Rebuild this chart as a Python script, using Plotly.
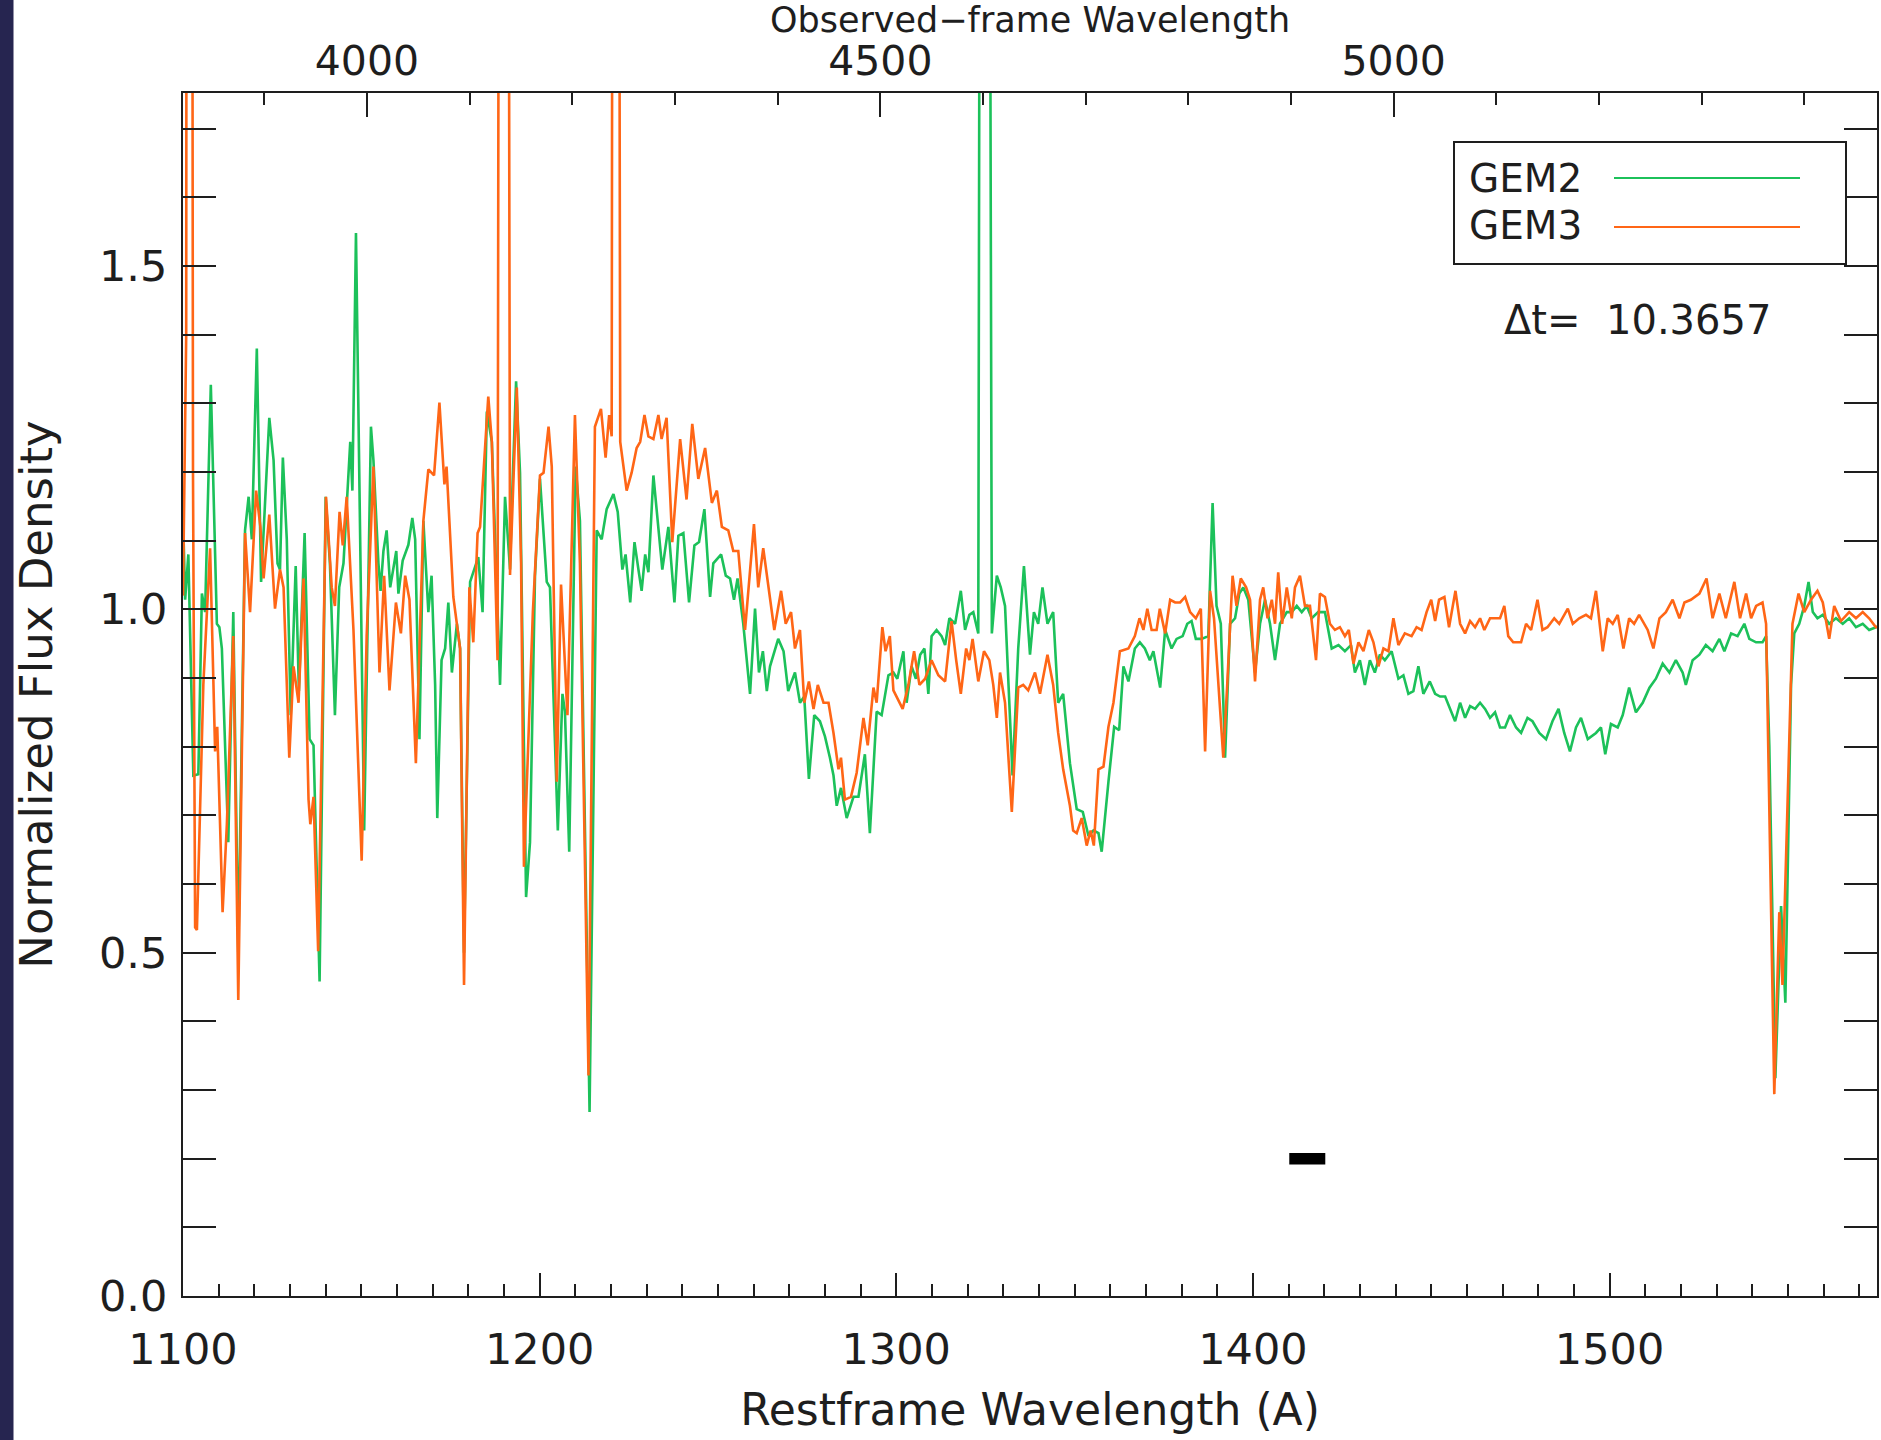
import plotly.graph_objects as go

# ---------------- data ----------------
one_plus_z = 3.4735  # observed / restframe wavelength

# GEM2 (green) : restframe wavelength and normalized flux
gem2_wave_a = [1100.0, 1100.6, 1101.5, 1102.9, 1104.3, 1105.3, 1106.2, 1107.8, 1109.5, 1110.2,
               1110.9, 1112.7, 1114.1, 1115.5, 1117.4, 1118.4, 1119.3, 1120.7, 1121.9, 1124.2,
               1125.4, 1126.5, 1127.2, 1128.0, 1129.1, 1130.2, 1131.6, 1132.5, 1134.1, 1135.5,
               1136.6, 1138.3, 1140.0, 1141.2, 1142.6, 1143.8, 1145.0, 1146.9, 1147.5, 1148.5,
               1150.8, 1152.7, 1153.4, 1154.8, 1155.4, 1156.2, 1157.1, 1158.1, 1159.8, 1160.4,
               1161.6, 1163.2, 1164.3, 1165.1, 1166.3, 1167.4, 1168.8, 1169.7, 1170.7, 1171.3,
               1172.5, 1173.5, 1174.4, 1175.4, 1176.8, 1177.7, 1178.8, 1180.5, 1182.8, 1184.0,
               1185.2, 1186.6, 1188.9, 1190.3, 1191.7, 1192.2, 1193.4, 1194.5, 1196.2, 1197.3,
               1198.7]
gem2_flux_a = [1.138, 1.014, 1.080, 0.758, 0.760, 1.023, 0.996, 1.327, 0.979, 0.974,
               0.943, 0.661, 0.996, 0.500, 1.115, 1.164, 1.102, 1.380, 1.040, 1.279,
               1.217, 1.067, 1.058, 1.221, 1.102, 0.846, 1.063, 0.881, 1.111, 0.811,
               0.802, 0.458, 1.164, 1.067, 0.846, 1.032, 1.067, 1.244, 1.173, 1.548,
               0.678, 1.266, 1.217, 1.067, 1.027, 1.085, 1.115, 1.032, 1.085, 1.023,
               1.071, 1.094, 1.133, 1.102, 0.811, 1.129, 0.996, 1.049, 0.890, 0.696,
               0.926, 0.943, 1.010, 0.908, 0.979, 0.943, 0.500, 1.040, 1.076, 0.996,
               1.288, 1.244, 0.890, 1.164, 1.058, 1.151, 1.332, 1.199, 0.581, 0.661,
               1.049]

gem2_wave_b = [1200.1, 1202.0, 1202.9, 1205.1, 1206.4, 1207.1, 1208.3, 1210.1, 1211.3, 1214.0,
               1216.0, 1217.4, 1218.8, 1220.7, 1221.9, 1223.2, 1224.1, 1225.4, 1226.6, 1227.7,
               1228.6, 1229.6, 1230.5, 1231.9, 1234.4, 1236.1, 1237.8, 1238.9, 1240.3, 1241.9,
               1243.4, 1244.7, 1246.2, 1247.8, 1248.7, 1250.9, 1252.2, 1253.4, 1254.5, 1255.5,
               1257.1, 1259.0, 1260.4, 1261.5, 1262.6, 1263.7, 1264.6, 1266.9, 1268.4, 1269.7,
               1270.7, 1271.6, 1273.0, 1274.2, 1275.5, 1277.0, 1278.6, 1280.0, 1281.4, 1282.4,
               1283.3, 1284.5, 1286.1, 1288.0, 1289.4, 1291.2, 1292.6, 1294.5, 1295.9, 1297.8]
gem2_flux_b = [1.190, 1.040, 1.032, 0.678, 0.877, 0.851, 0.647, 1.208, 1.129, 0.268,
               1.115, 1.102, 1.146, 1.168, 1.142, 1.058, 1.080, 1.010, 1.098, 1.058,
               1.027, 1.080, 1.054, 1.195, 1.058, 1.120, 1.010, 1.107, 1.111, 1.010,
               1.093, 1.098, 1.146, 1.018, 1.067, 1.080, 1.049, 1.045, 1.014, 1.045,
               0.979, 0.877, 1.001, 0.908, 0.939, 0.881, 0.917, 0.957, 0.939, 0.881,
               0.895, 0.908, 0.864, 0.873, 0.753, 0.846, 0.837, 0.815, 0.784, 0.758,
               0.714, 0.740, 0.696, 0.727, 0.727, 0.789, 0.674, 0.851, 0.846, 0.904]

gem2_wave_c = [1299.2, 1300.3, 1302.0, 1302.9, 1304.3, 1305.5, 1306.7, 1307.9, 1309.0, 1309.9,
               1311.3, 1312.7, 1313.7, 1314.9, 1316.5, 1318.1, 1319.3, 1320.5, 1321.6, 1323.0,
               1323.7, 1325.8, 1326.8, 1328.2, 1329.3, 1330.5, 1332.6, 1334.2, 1335.8, 1337.5,
               1338.6, 1339.8, 1341.0, 1342.4, 1344.0, 1345.4, 1346.8, 1348.7, 1350.6, 1352.3,
               1353.9, 1355.3, 1356.7, 1357.6, 1359.5, 1361.1, 1362.5, 1363.7, 1365.1, 1366.9,
               1368.3, 1369.7, 1371.1, 1372.1, 1374.0, 1375.4, 1377.2, 1378.6, 1380.3, 1381.6,
               1382.8, 1384.0, 1385.6, 1387.5, 1388.7, 1389.8, 1391.0, 1392.2, 1393.6, 1395.0,
               1396.2, 1397.3, 1398.7]
gem2_flux_c = [0.908, 0.899, 0.939, 0.864, 0.917, 0.899, 0.934, 0.943, 0.877, 0.961,
               0.970, 0.961, 0.948, 0.987, 0.979, 1.027, 0.970, 0.992, 0.996, 0.965,
               3.000, 3.000, 0.965, 1.049, 1.032, 1.005, 0.758, 0.943, 1.063, 0.934,
               0.996, 0.979, 1.032, 0.979, 0.996, 0.864, 0.877, 0.776, 0.709, 0.705,
               0.670, 0.678, 0.674, 0.647, 0.749, 0.829, 0.824, 0.917, 0.895, 0.943,
               0.952, 0.943, 0.926, 0.939, 0.886, 0.970, 0.943, 0.957, 0.961, 0.979,
               0.983, 0.957, 0.957, 0.961, 1.155, 1.005, 0.979, 0.784, 0.979, 0.987,
               1.023, 1.032, 1.014]

gem2_wave_d = [1400.6, 1402.0, 1403.4, 1404.8, 1406.2, 1407.6, 1409.5, 1410.9, 1412.3, 1413.7,
               1415.1, 1416.5, 1418.3, 1420.2, 1422.1, 1424.0, 1425.8, 1427.5, 1428.6, 1430.0,
               1431.4, 1432.8, 1434.2, 1435.6, 1437.0, 1438.9, 1440.8, 1442.2, 1443.6, 1445.0,
               1446.4, 1447.8, 1449.6, 1451.1, 1452.5, 1453.9, 1455.3, 1456.7, 1458.1, 1459.5,
               1460.9, 1462.3, 1463.7, 1465.1, 1466.5, 1467.9, 1469.3, 1470.7, 1472.1]
gem2_flux_d = [0.908, 0.979, 1.014, 0.979, 0.926, 0.979, 0.996, 0.996, 1.005, 0.996,
               1.005, 0.987, 0.996, 0.996, 0.943, 0.948, 0.939, 0.948, 0.908, 0.926,
               0.890, 0.926, 0.908, 0.934, 0.926, 0.939, 0.899, 0.904, 0.877, 0.881,
               0.917, 0.877, 0.895, 0.877, 0.873, 0.873, 0.855, 0.837, 0.864, 0.842,
               0.859, 0.855, 0.864, 0.855, 0.842, 0.850, 0.828, 0.828, 0.846]

gem2_wave_e = [1473.8, 1475.2, 1477.0, 1478.4, 1480.3, 1482.2, 1484.0, 1485.7, 1487.3, 1488.9,
               1490.6, 1492.0, 1493.9, 1496.2, 1497.6, 1498.8, 1500.4, 1502.3, 1503.7, 1505.5,
               1507.4, 1509.3, 1511.2, 1513.0, 1514.9, 1516.8, 1518.6, 1520.5, 1521.4, 1523.3,
               1525.2, 1527.0, 1528.9, 1530.8, 1532.2, 1534.1, 1535.9, 1537.8, 1539.2, 1541.1,
               1542.9, 1543.9, 1544.8, 1546.5, 1548.1, 1549.3, 1550.9, 1551.8, 1553.2, 1554.6,
               1555.8, 1557.0, 1558.3, 1559.8, 1561.6, 1563.5, 1565.4, 1567.2, 1569.1, 1571.0,
               1572.8, 1574.7, 1575.5]
gem2_flux_e = [0.828, 0.820, 0.842, 0.837, 0.820, 0.811, 0.837, 0.855, 0.820, 0.793,
               0.828, 0.842, 0.811, 0.820, 0.828, 0.789, 0.833, 0.828, 0.846, 0.886,
               0.850, 0.864, 0.886, 0.899, 0.921, 0.908, 0.926, 0.908, 0.890, 0.926,
               0.934, 0.948, 0.939, 0.957, 0.939, 0.965, 0.961, 0.979, 0.957, 0.952,
               0.952, 0.961, 0.802, 0.317, 0.568, 0.427, 0.890, 0.965, 0.979, 1.005,
               1.040, 0.996, 0.987, 0.992, 0.979, 0.987, 0.979, 0.987, 0.974, 0.979,
               0.970, 0.974, 0.975]

# GEM3 (orange)
gem3_wave_a = [1100.0, 1100.9, 1101.1, 1102.4, 1102.8, 1103.4, 1103.9, 1105.7, 1107.6, 1109.0,
               1109.6, 1111.1, 1112.3, 1114.1, 1115.5, 1117.4, 1118.8, 1120.5, 1121.7, 1122.6,
               1124.2, 1125.8, 1127.2, 1128.2, 1129.8, 1131.0, 1132.4, 1133.8, 1135.2, 1135.7,
               1136.6, 1137.9, 1140.1, 1141.7, 1142.6, 1143.9, 1144.8, 1145.9, 1147.8, 1150.1,
               1151.5, 1153.4, 1155.1, 1156.4, 1157.9, 1159.7, 1161.1, 1162.3, 1163.5, 1165.3,
               1167.4, 1168.8, 1170.4, 1171.9, 1173.3, 1173.9, 1175.8, 1177.7, 1178.8, 1180.3,
               1181.4, 1182.6, 1183.3, 1185.6, 1186.6, 1188.2, 1188.8, 1191.0, 1191.7, 1193.6,
               1194.8, 1195.6, 1198.1]
gem3_flux_a = [1.020, 1.400, 3.000, 3.000, 1.200, 0.537, 0.533, 0.890, 1.089, 0.793,
               0.829, 0.559, 0.687, 0.961, 0.431, 1.111, 0.996, 1.173, 1.120, 1.045,
               1.138, 1.001, 1.058, 1.032, 0.784, 0.917, 0.864, 1.045, 0.723, 0.687,
               0.727, 0.502, 1.164, 1.032, 1.005, 1.142, 1.093, 1.164, 0.970, 0.634,
               0.961, 1.208, 0.908, 1.049, 0.882, 1.010, 0.965, 1.049, 1.014, 0.776,
               1.129, 1.204, 1.195, 1.301, 1.182, 1.208, 1.018, 0.943, 0.453, 1.032,
               0.952, 1.111, 1.120, 1.310, 1.244, 0.926, 3.000, 3.000, 1.050, 1.323,
               1.067, 0.625, 0.996]

gem3_wave_b = [1200.1, 1201.1, 1202.5, 1203.4, 1204.8, 1206.0, 1207.1, 1207.8, 1209.9, 1211.3,
               1213.7, 1215.5, 1217.2, 1218.5, 1219.5, 1220.2, 1220.6, 1222.0, 1222.6, 1224.4,
               1225.8, 1227.2, 1228.2, 1229.4, 1230.5, 1231.9, 1233.3, 1234.2, 1235.6, 1237.2,
               1239.4, 1241.2, 1242.8, 1244.5, 1246.4, 1248.3, 1249.7, 1251.1, 1252.9, 1254.3,
               1255.7, 1257.6, 1260.1, 1261.3, 1262.7, 1264.1, 1265.8, 1267.7, 1269.0, 1270.5,
               1271.6, 1273.0, 1274.2, 1275.5, 1276.8, 1278.0, 1279.6, 1281.0, 1282.4, 1283.8,
               1284.5, 1285.6, 1287.3, 1288.9, 1290.8, 1292.0, 1293.6, 1294.5, 1296.1, 1297.0,
               1298.2]
gem3_flux_b = [1.195, 1.199, 1.266, 1.208, 0.749, 1.036, 0.926, 0.846, 1.283, 1.067,
               0.321, 1.266, 1.292, 1.221, 1.283, 1.252, 3.000, 3.000, 1.244, 1.173,
               1.199, 1.235, 1.244, 1.283, 1.252, 1.248, 1.283, 1.248, 1.279, 1.098,
               1.248, 1.160, 1.270, 1.190, 1.235, 1.155, 1.173, 1.120, 1.115, 1.085,
               1.085, 0.970, 1.124, 1.032, 1.089, 1.032, 0.970, 1.027, 0.979, 0.996,
               0.943, 0.970, 0.864, 0.895, 0.855, 0.890, 0.864, 0.864, 0.820, 0.767,
               0.784, 0.723, 0.727, 0.762, 0.842, 0.802, 0.886, 0.864, 0.974, 0.939,
               0.961]

gem3_wave_c = [1299.2, 1300.1, 1301.8, 1303.4, 1305.0, 1306.5, 1308.1, 1309.9, 1311.8, 1313.7,
               1315.5, 1316.8, 1318.1, 1319.6, 1320.5, 1321.4, 1323.0, 1324.6, 1326.1, 1327.2,
               1328.2, 1329.1, 1330.5, 1332.4, 1334.2, 1335.6, 1337.0, 1338.9, 1340.3, 1342.4,
               1344.0, 1345.4, 1346.8, 1348.7, 1349.6, 1350.6, 1352.0, 1353.4, 1354.5, 1355.4,
               1356.7, 1358.1, 1359.5, 1360.9, 1362.7, 1365.1, 1366.9, 1368.2, 1369.3, 1370.4,
               1371.6, 1373.0, 1373.9, 1375.4, 1376.8, 1378.2, 1379.6, 1381.0, 1382.4, 1384.0,
               1385.4, 1386.6, 1388.0, 1389.1, 1390.3, 1391.7, 1392.8, 1394.3, 1395.4, 1396.6,
               1398.1]
gem3_flux_c = [0.882, 0.873, 0.855, 0.890, 0.939, 0.890, 0.899, 0.926, 0.904, 0.895,
               0.983, 0.926, 0.877, 0.943, 0.926, 0.957, 0.895, 0.939, 0.926, 0.890,
               0.842, 0.908, 0.864, 0.705, 0.886, 0.890, 0.882, 0.908, 0.877, 0.934,
               0.890, 0.820, 0.767, 0.714, 0.678, 0.674, 0.696, 0.656, 0.678, 0.656,
               0.767, 0.771, 0.829, 0.864, 0.939, 0.943, 0.961, 0.987, 0.970, 1.001,
               0.970, 0.970, 1.001, 0.965, 1.014, 1.010, 1.010, 1.018, 0.996, 0.987,
               1.001, 0.793, 1.027, 0.987, 0.890, 0.784, 0.890, 1.049, 1.005, 1.045,
               1.032]

gem3_wave_d = [1399.2, 1400.6, 1402.0, 1402.9, 1404.1, 1405.3, 1406.2, 1407.1, 1408.2, 1409.5,
               1410.9, 1411.8, 1413.2, 1414.6, 1416.0, 1417.7, 1418.8, 1420.2, 1421.6, 1423.0,
               1424.4, 1425.8, 1426.9, 1428.2, 1429.6, 1431.0, 1432.5, 1433.8, 1435.2, 1436.6,
               1438.0, 1439.4, 1440.8, 1442.6, 1444.5, 1445.9, 1447.3, 1448.7, 1450.0, 1451.1,
               1452.2, 1453.7, 1455.0, 1456.8, 1458.1, 1459.5, 1460.9, 1462.3, 1463.7, 1464.9,
               1466.5, 1467.9, 1469.3, 1470.5, 1471.6, 1473.0]
gem3_flux_d = [1.014, 0.895, 1.014, 1.032, 0.987, 1.014, 0.979, 1.054, 0.979, 1.032,
               0.987, 1.032, 1.049, 1.005, 1.005, 0.926, 1.023, 1.018, 0.979, 0.970,
               0.974, 0.961, 0.970, 0.921, 0.952, 0.939, 0.970, 0.952, 0.917, 0.943,
               0.939, 0.987, 0.948, 0.965, 0.961, 0.974, 0.970, 0.996, 1.014, 0.983,
               1.014, 1.018, 0.974, 1.027, 0.979, 0.965, 0.983, 0.974, 0.987, 0.970,
               0.987, 0.987, 0.987, 1.005, 0.961, 0.952]

gem3_wave_e = [1475.2, 1476.6, 1478.0, 1479.8, 1481.2, 1482.6, 1484.5, 1485.9, 1488.3, 1489.7,
               1491.5, 1493.4, 1494.8, 1496.2, 1498.1, 1499.5, 1500.9, 1502.3, 1503.9, 1505.5,
               1506.9, 1508.3, 1510.7, 1512.3, 1514.0, 1515.8, 1517.7, 1519.6, 1521.0, 1522.8,
               1525.2, 1527.2, 1528.9, 1530.8, 1532.6, 1535.0, 1536.6, 1538.3, 1539.7, 1541.1,
               1542.9, 1543.9, 1544.8, 1546.2, 1547.6, 1548.5, 1549.9, 1551.3, 1553.0, 1554.6,
               1556.5, 1558.3, 1559.8, 1561.6, 1563.0, 1564.9, 1567.2, 1569.1, 1571.0, 1572.8,
               1574.7, 1575.5]
gem3_flux_e = [0.952, 0.979, 0.970, 1.014, 0.970, 0.974, 0.987, 0.979, 1.001, 0.979,
               0.987, 0.992, 0.987, 1.027, 0.939, 0.987, 0.979, 0.992, 0.943, 0.987,
               0.979, 0.992, 0.970, 0.943, 0.987, 0.996, 1.014, 0.987, 1.010, 1.014,
               1.023, 1.045, 0.987, 1.023, 0.987, 1.040, 0.987, 1.023, 0.987, 1.005,
               1.010, 0.979, 0.714, 0.294, 0.559, 0.453, 0.714, 0.979, 1.023, 0.996,
               1.014, 1.027, 1.010, 0.957, 1.005, 0.983, 0.996, 0.987, 0.996, 0.987,
               0.974, 0.975]

# horizontal marker bar
bar_wave = [1410.2, 1420.3]
bar_flux = [0.2, 0.2]

labels = ["GEM2", "GEM3"]
delta_t = "10.3657"
x_range = [1100, 1575]
y_range = [0, 1.752]

gem2_wave = gem2_wave_a + gem2_wave_b + gem2_wave_c + gem2_wave_d + gem2_wave_e
gem2_flux = gem2_flux_a + gem2_flux_b + gem2_flux_c + gem2_flux_d + gem2_flux_e
gem3_wave = gem3_wave_a + gem3_wave_b + gem3_wave_c + gem3_wave_d + gem3_wave_e
gem3_flux = gem3_flux_a + gem3_flux_b + gem3_flux_c + gem3_flux_d + gem3_flux_e

# ---------------- styling ----------------
GREEN = "#1cc15a"
ORANGE = "#ff6616"
INK = "#1e1e1e"
FONT = "DejaVu Sans"
FS = 43

W, H = 1881, 1440
ML, MR, MT, MB = 183, 4, 93, 144
PW, PH = W - ML - MR, H - MT - MB


def px(X):
    return (X - ML) / PW


def py(Y):
    return (H - MB - Y) / PH


fig = go.Figure()
fig.add_trace(go.Scatter(x=gem2_wave, y=gem2_flux, mode="lines", name=labels[0],
                         line=dict(color=GREEN, width=2.6), showlegend=False))
fig.add_trace(go.Scatter(x=gem3_wave, y=gem3_flux, mode="lines", name=labels[1],
                         line=dict(color=ORANGE, width=2.6), showlegend=False))
fig.add_trace(go.Scatter(x=bar_wave, y=bar_flux, mode="lines",
                         line=dict(color="black", width=11.5), showlegend=False,
                         hoverinfo="skip"))
# carrier trace for the observed-frame (top) axis
fig.add_trace(go.Scatter(x=[x_range[0] * one_plus_z, x_range[1] * one_plus_z],
                         y=[-1, -1], xaxis="x2", mode="lines", opacity=0,
                         showlegend=False, hoverinfo="skip"))

axis_common = dict(showline=True, linecolor=INK, linewidth=2, ticks="inside",
                   tickcolor=INK, tickwidth=2, showgrid=False, zeroline=False,
                   automargin=False)

fig.update_layout(
    width=W, height=H,
    margin=dict(l=ML, r=MR, t=MT, b=MB),
    paper_bgcolor="white", plot_bgcolor="white",
    font=dict(family=FONT, size=FS, color=INK),
    xaxis=dict(range=x_range, dtick=100, tick0=0, ticklen=23, mirror=False,
               minor=dict(ticks="inside", dtick=10, ticklen=12, tickwidth=2, tickcolor=INK),
               ticklabelstandoff=14,
               tickfont=dict(family=FONT, size=FS, color=INK),
               title=dict(text="Restframe Wavelength (A)", standoff=22,
                          font=dict(family=FONT, size=FS + 1, color=INK)),
               **axis_common),
    xaxis2=dict(range=[x_range[0] * one_plus_z, x_range[1] * one_plus_z], overlaying="x",
                side="top", anchor="y", dtick=500, tick0=0, ticklen=24,
                minor=dict(ticks="inside", dtick=100, ticklen=12, tickwidth=2, tickcolor=INK),
                ticklabelstandoff=0,
                tickfont=dict(family=FONT, size=FS - 2, color=INK),
                title=dict(text="Observed\u2212frame Wavelength", standoff=14,
                           font=dict(family=FONT, size=FS - 8, color=INK)),
                **axis_common),
    yaxis=dict(range=y_range, dtick=0.5, tick0=0, ticklen=33, mirror="allticks",
               tickformat=".1f",
               minor=dict(ticks="inside", dtick=0.1, ticklen=16, tickwidth=2, tickcolor=INK),
               ticklabelstandoff=5,
               tickfont=dict(family=FONT, size=FS, color=INK),
               title=dict(text="Normalized Flux Density", standoff=32,
                          font=dict(family=FONT, size=FS + 2, color=INK)),
               **axis_common),
)

shapes = [
    # dark slide strip at the far left
    dict(type="rect", xref="paper", yref="paper", x0=px(-5), x1=px(13.5), y0=py(-5), y1=py(H + 5),
         fillcolor="#262550", line=dict(width=0), layer="below"),
    # legend frame
    dict(type="rect", xref="paper", yref="paper", x0=px(1454), x1=px(1846), y0=py(264), y1=py(142),
         line=dict(color=INK, width=2), fillcolor="white"),
    dict(type="line", xref="paper", yref="paper", x0=px(1614), x1=px(1800), y0=py(178), y1=py(178),
         line=dict(color=GREEN, width=2.2)),
    dict(type="line", xref="paper", yref="paper", x0=px(1614), x1=px(1800), y0=py(227), y1=py(227),
         line=dict(color=ORANGE, width=2.2)),
]
annotations = [
    dict(text=labels[0], xref="paper", yref="paper", x=px(1467), y=py(178), xanchor="left",
         yanchor="middle", showarrow=False, font=dict(family=FONT, size=FS - 4, color=INK)),
    dict(text=labels[1], xref="paper", yref="paper", x=px(1467), y=py(226), xanchor="left",
         yanchor="middle", showarrow=False, font=dict(family=FONT, size=FS - 4, color=INK)),
    dict(text="\u0394t=\u00a0\u00a0" + delta_t, xref="paper", yref="paper", x=px(1502), y=py(320),
         xanchor="left", yanchor="middle", showarrow=False,
         font=dict(family=FONT, size=FS - 3, color=INK)),
]
fig.update_layout(shapes=shapes, annotations=annotations)

fig.write_html("out.html")
